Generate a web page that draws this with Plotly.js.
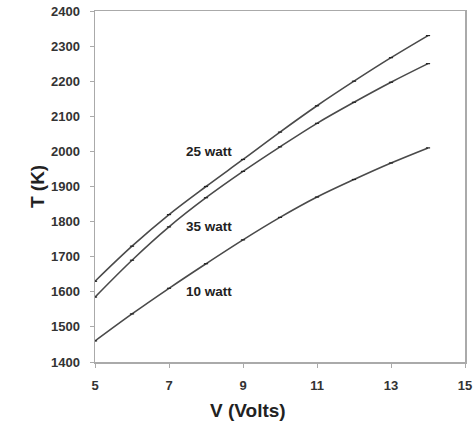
<!DOCTYPE html>
<html>
<head>
<meta charset="utf-8">
<script src="https://cdn.plot.ly/plotly-3.0.1.min.js"></script>
<style>html,body{margin:0;padding:0;background:#fff;}#chart{width:474px;height:421px;}</style>
</head>
<body>
<div id="chart"></div>
<script>
const volts = [5, 6, 7, 8, 9, 10, 11, 12, 13, 14];
const t25 = [1630, 1730, 1820, 1900, 1977, 2055, 2130, 2200, 2267, 2330];
const t35 = [1585, 1690, 1785, 1868, 1943, 2013, 2080, 2140, 2197, 2250];
const t10 = [1460, 1537, 1610, 1680, 1748, 1812, 1870, 1920, 1967, 2010];
const seriesNames = ["25 watt", "35 watt", "10 watt"];
const labelPos = [[8.08, 2000], [8.08, 1785], [8.08, 1600]];
const xTicks = [5, 7, 9, 11, 13, 15];
const yTicks = [1400, 1500, 1600, 1700, 1800, 1900, 2000, 2100, 2200, 2300, 2400];

const lineColor = '#4a4a4a';
const series = [t25, t35, t10];
const traces = series.map((ys, i) => ({
  x: volts, y: ys, name: seriesNames[i],
  type: 'scatter', mode: 'lines+markers',
  line: {color: lineColor, width: 1.6, shape: 'spline', smoothing: 1},
  marker: {color: '#222', size: 3, symbol: 'line-ew-open', line: {width: 1.2, color: '#222'}},
  showlegend: false, hoverinfo: 'x+y'
}));

const fam = 'Liberation Sans, Arial, sans-serif';
const tickFont = {family: fam, size: 13, color: '#333', weight: 'bold'};
const titleFont = {family: fam, size: 19, color: '#222', weight: 'bold'};

const annotations = seriesNames.map((n, i) => ({
  x: labelPos[i][0], y: labelPos[i][1], xref: 'x', yref: 'y',
  text: n, showarrow: false,
  font: {family: fam, size: 13.5, color: '#222', weight: 'bold'}
}));
annotations.push({
  xref: 'paper', yref: 'paper', x: 0.414, y: -0.137, yanchor: 'middle',
  text: 'V (Volts)', showarrow: false, font: titleFont
});
annotations.push({
  xref: 'paper', yref: 'paper', x: -0.189, y: 0.5, textangle: -90,
  text: 'T (K)', showarrow: false, font: titleFont
});

const layout = {
  width: 474, height: 421,
  margin: {l: 95, r: 9, t: 11, b: 59},
  paper_bgcolor: '#fff', plot_bgcolor: '#fff',
  xaxis: {
    range: [5, 15], tickvals: xTicks, ticktext: xTicks.map(String),
    showgrid: false, zeroline: false,
    showline: true, mirror: true, linecolor: '#aaa', linewidth: 1.5,
    ticks: 'outside', ticklen: 4, tickcolor: '#aaa', tickwidth: 1,
    ticklabelstandoff: 7,
    tickfont: tickFont
  },
  yaxis: {
    range: [1400, 2400], tickvals: yTicks, ticktext: yTicks.map(String),
    showgrid: false, zeroline: false,
    showline: true, mirror: true, linecolor: '#aaa', linewidth: 1.5,
    ticks: 'outside', ticklen: 4, tickcolor: '#aaa', tickwidth: 1,
    ticklabelstandoff: 7,
    tickfont: tickFont
  },
  annotations: annotations
};

Plotly.newPlot('chart', traces, layout, {staticPlot: true, displayModeBar: false});
</script>
</body>
</html>
